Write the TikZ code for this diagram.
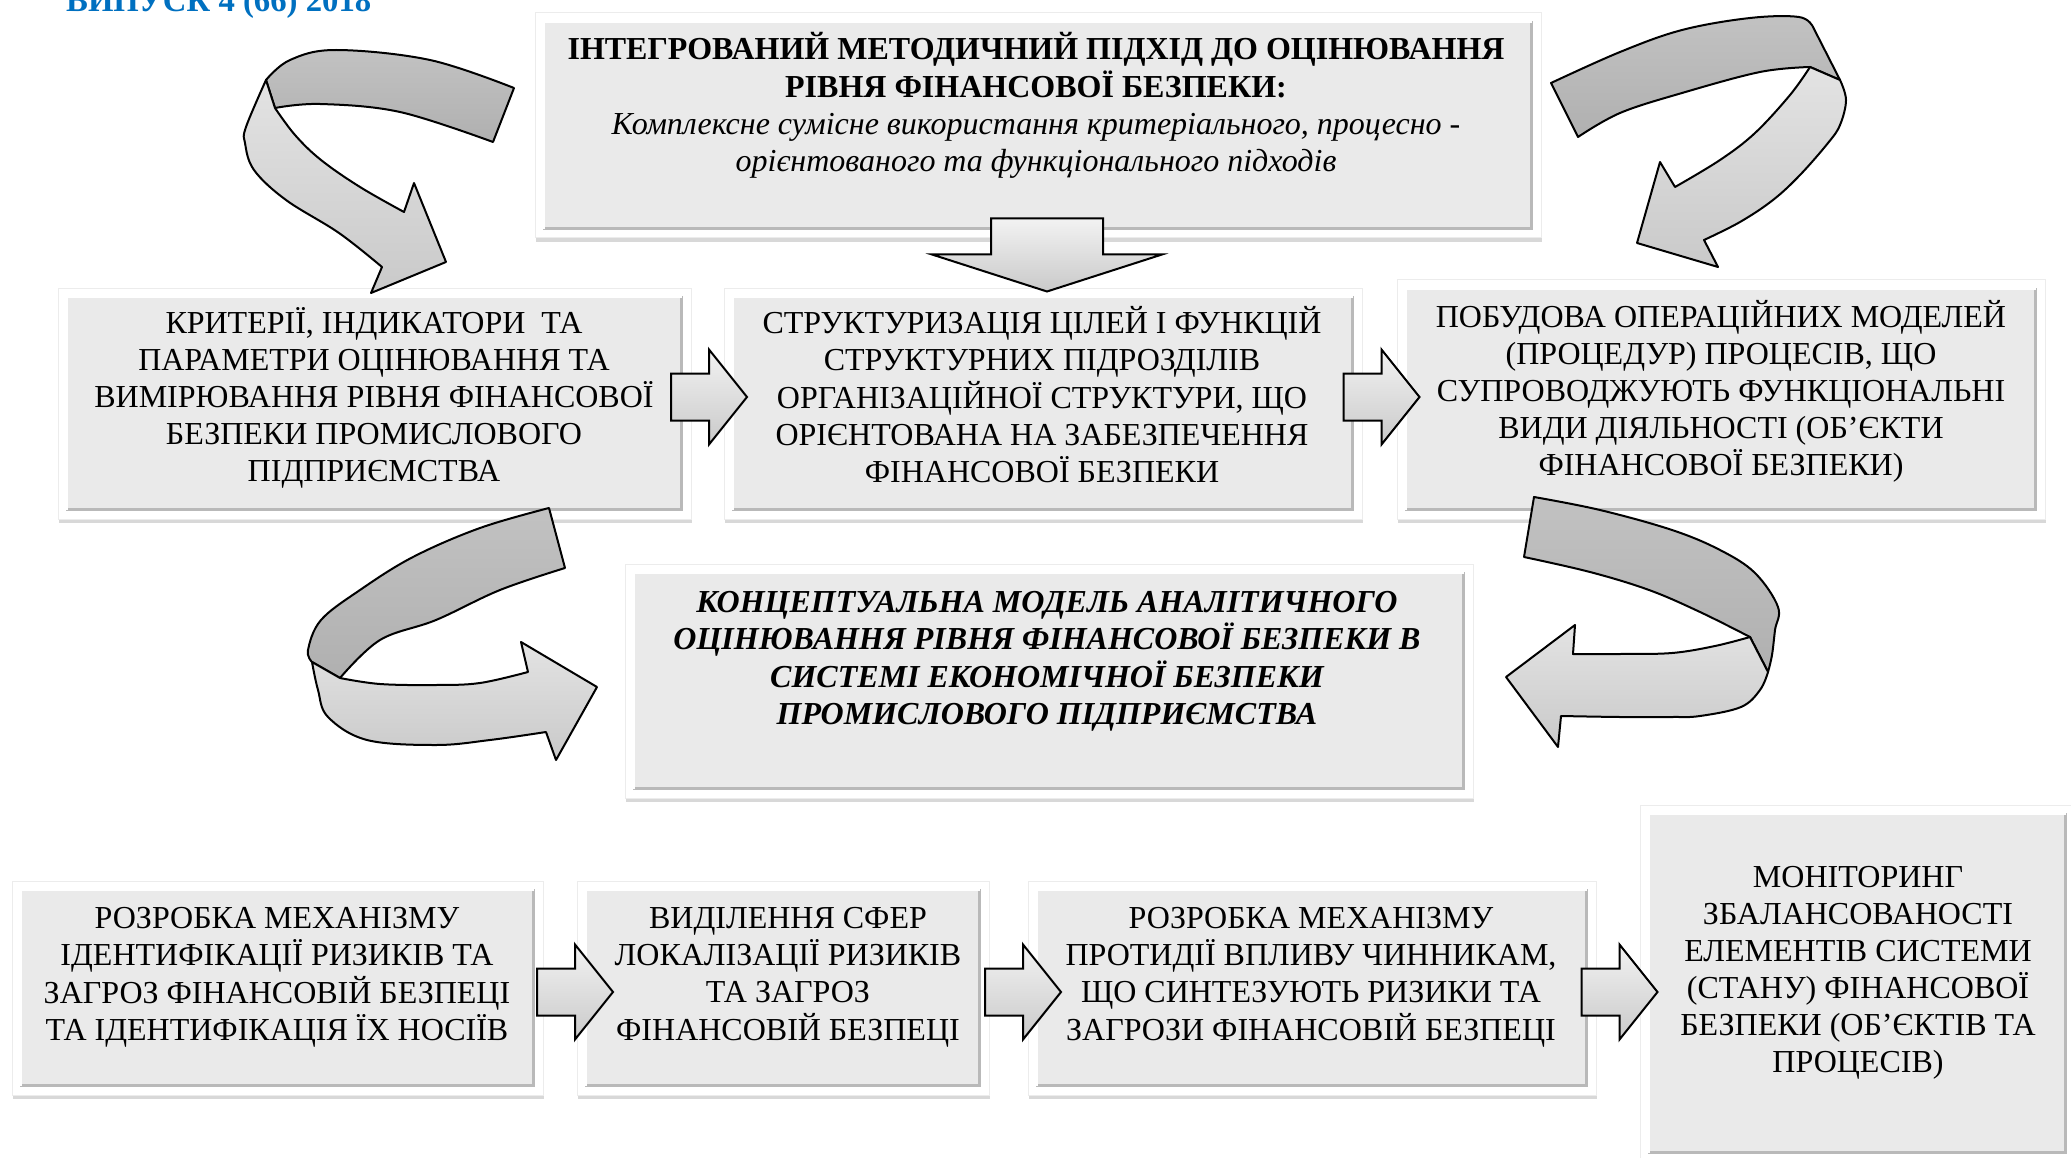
\documentclass[tikz,border=0pt]{standalone}
\usepackage{fontspec}
\setmainfont{Liberation Serif}
\usepackage{graphicx}
\usetikzlibrary{shadows,calc}
\definecolor{hdrblue}{HTML}{0070C0}
\definecolor{boxgray}{HTML}{EAEAEA}
\tikzset{
 boxframe/.style={fill=white, draw=gray!15, line width=1pt, inner sep=0pt,
   drop shadow={shadow xshift=1pt, shadow yshift=-4pt, opacity=0.3, fill=gray},
   path picture={
   \fill[boxgray] ([shift={(8pt,8pt)}]path picture bounding box.south west) rectangle ([shift={(-8pt,-8pt)}]path picture bounding box.north east);
   \draw[gray!55, line width=3pt] ([shift={(8pt,9.5pt)}]path picture bounding box.south west) -- ([shift={(-9.5pt,9.5pt)}]path picture bounding box.south east) -- ([shift={(-9.5pt,-8pt)}]path picture bounding box.north east);
   \draw[white, line width=2pt] ([shift={(9pt,9pt)}]path picture bounding box.south west) -- ([shift={(9pt,-9pt)}]path picture bounding box.north west) -- ([shift={(-9pt,-9pt)}]path picture bounding box.north east);
 }},
 boxtxt/.style={anchor=base, inner sep=0pt, font=\fontsize{32}{37}\selectfont},
 blockarrow/.style={draw=black, line width=2pt, line join=miter, top color=gray!10, bottom color=gray!42},
 backface/.style={draw=black, line width=2pt, line join=round, top color=gray!48, bottom color=gray!62},
 frontface/.style={draw=black, line width=2pt, line join=round, top color=gray!22, bottom color=gray!42},
 pics/rarr/.style={code={\draw[blockarrow] (-38,-23.5) -- (0,-23.5) -- (0,-47.5) -- (38,0) -- (0,47.5) -- (0,23.5) -- (-38,23.5) -- cycle;}},
 pics/darr/.style={code={\draw[blockarrow] (-56,0) -- (56,0) -- (56,36) -- (115,36) -- (0,73) -- (-115,36) -- (-56,36) -- cycle;}},
}
\newcommand{\tl}[1]{\begin{tabular}[t]{@{}c@{}}#1\end{tabular}}
\begin{document}
\begin{tikzpicture}[x=1pt,y=-1pt]
\useasboundingbox (0,0) rectangle (2071,1158);
\clip (0,0) rectangle (2071,1158);
\fill[white] (0,0) rectangle (2071,1158);

% header
\node[anchor=base west, inner sep=0pt, text=hdrblue] (hdr) at (66,12) {\resizebox{305pt}{!}{\bfseries ВИПУСК 4 (66) 2018}};

% boxes
\node[boxframe, minimum width=1006pt, minimum height=225pt] (T) at (1038,125.5) {};
\node[boxframe, minimum width=633pt, minimum height=231pt] (A) at (374.5,403.5) {};
\node[boxframe, minimum width=638pt, minimum height=231pt] (B) at (1043,403.5) {};
\node[boxframe, minimum width=648pt, minimum height=239pt] (C) at (1721,399.5) {};
\node[boxframe, minimum width=848pt, minimum height=234pt] (D) at (1049,681) {};
\node[boxframe, minimum width=531pt, minimum height=214pt] (E) at (277.5,988) {};
\node[boxframe, minimum width=412pt, minimum height=214pt] (F) at (783,988) {};
\node[boxframe, minimum width=568pt, minimum height=214pt] (G) at (1312,988) {};
\node[boxframe, minimum width=435pt, minimum height=357pt] (H) at (1857.5,983.5) {};

% texts
\node[boxtxt] (Tt) at (1036,60) {\tl{\textbf{ІНТЕГРОВАНИЙ МЕТОДИЧНИЙ ПІДХІД ДО ОЦІНЮВАННЯ}\\
 \textbf{РІВНЯ ФІНАНСОВОЇ БЕЗПЕКИ:}\\
 \textit{Комплексне сумісне використання критеріального, процесно -}\\
 \textit{орієнтованого та функціонального підходів}}};
\node[boxtxt] (At) at (374,333) {\tl{КРИТЕРІЇ, ІНДИКАТОРИ\ \ ТА\\ ПАРАМЕТРИ ОЦІНЮВАННЯ ТА\\ ВИМІРЮВАННЯ РІВНЯ ФІНАНСОВОЇ\\ БЕЗПЕКИ ПРОМИСЛОВОГО\\ ПІДПРИЄМСТВА}};
\node[boxtxt] (Bt) at (1042,333) {\tl{СТРУКТУРИЗАЦІЯ ЦІЛЕЙ І ФУНКЦІЙ\\ СТРУКТУРНИХ ПІДРОЗДІЛІВ\\ ОРГАНІЗАЦІЙНОЇ СТРУКТУРИ, ЩО\\ ОРІЄНТОВАНА НА ЗАБЕЗПЕЧЕННЯ\\ ФІНАНСОВОЇ БЕЗПЕКИ}};
\node[boxtxt] (Ct) at (1721,327) {\tl{ПОБУДОВА ОПЕРАЦІЙНИХ МОДЕЛЕЙ\\ (ПРОЦЕДУР) ПРОЦЕСІВ, ЩО\\ СУПРОВОДЖУЮТЬ ФУНКЦІОНАЛЬНІ\\ ВИДИ ДІЯЛЬНОСТІ (ОБ'ЄКТИ\\ ФІНАНСОВОЇ БЕЗПЕКИ)}};
\node[boxtxt, font=\fontsize{32}{37}\selectfont\bfseries\itshape] (Dt) at (1047,612) {\tl{КОНЦЕПТУАЛЬНА МОДЕЛЬ АНАЛІТИЧНОГО\\ ОЦІНЮВАННЯ РІВНЯ ФІНАНСОВОЇ БЕЗПЕКИ В\\ СИСТЕМІ ЕКОНОМІЧНОЇ БЕЗПЕКИ\\ ПРОМИСЛОВОГО ПІДПРИЄМСТВА}};
\node[boxtxt] (Et) at (277,928) {\tl{РОЗРОБКА МЕХАНІЗМУ\\ ІДЕНТИФІКАЦІЇ РИЗИКІВ ТА\\ ЗАГРОЗ ФІНАНСОВІЙ БЕЗПЕЦІ\\ ТА ІДЕНТИФІКАЦІЯ ЇХ НОСІЇВ}};
\node[boxtxt] (Ft) at (788,928) {\tl{ВИДІЛЕННЯ СФЕР\\ ЛОКАЛІЗАЦІЇ РИЗИКІВ\\ ТА ЗАГРОЗ\\ ФІНАНСОВІЙ БЕЗПЕЦІ}};
\node[boxtxt] (Gt) at (1311,928) {\tl{РОЗРОБКА МЕХАНІЗМУ\\ ПРОТИДІЇ ВПЛИВУ ЧИННИКАМ,\\ ЩО СИНТЕЗУЮТЬ РИЗИКИ ТА\\ ЗАГРОЗИ ФІНАНСОВІЙ БЕЗПЕЦІ}};
\node[boxtxt] (Ht) at (1858,887) {\tl{МОНІТОРИНГ\\ ЗБАЛАНСОВАНОСТІ\\ ЕЛЕМЕНТІВ СИСТЕМИ\\ (СТАНУ) ФІНАНСОВОЇ\\ БЕЗПЕКИ (ОБ’ЄКТІВ ТА\\ ПРОЦЕСІВ)}};

% straight block arrows
\pic at ($(T.south)+(9,-20)$) {darr};
\pic at ($(A.east)!0.5!(B.west)+(1.5,-6.5)$) {rarr};
\pic at ($(B.east)!0.5!(C.west)+(2,-4.5)$) {rarr};
\pic at ($(E.east)!0.5!(F.west)+(15,4)$) {rarr};
\pic at ($(F.east)!0.5!(G.west)+(14.5,4)$) {rarr};
\pic at ($(G.east)!0.5!(H.west)+(1.5,6.25)$) {rarr};

% curved arrow top-left
\draw[backface] plot[smooth, tension=0.6] coordinates {(514,88) (430,60) (336,50) (290,60) (266,80)} -- (275,108)
  -- plot[smooth, tension=0.6] coordinates {(275,108) (320,104) (400,112) (493,142)} -- cycle;
\draw[frontface] plot[smooth, tension=0.6] coordinates {(266,80) (246,127) (245,143) (254,170) (286,200) (339,233) (382,267)}
  -- (371,293) -- (446,262) -- (414,183) -- (404,212)
  -- plot[smooth, tension=0.6] coordinates {(404,212) (360,187) (321,160) (295,135) (275,108)} -- cycle;

% curved arrow top-right
\draw[backface] plot[smooth, tension=0.6] coordinates {(1551,83) (1620,52) (1682,30) (1750,18) (1799,17) (1813,27)} -- (1840,80) -- (1810,67)
  -- plot[smooth, tension=0.6] coordinates {(1810,67) (1760,72) (1682,93) (1620,113) (1578,137)} -- cycle;
\draw[frontface] plot[smooth, tension=0.6] coordinates {(1840,80) (1846,100) (1840,125) (1828,143) (1800,175) (1773,200) (1740,222) (1704,240)}
  -- (1718,267) -- (1637,243) -- (1660,162) -- (1675,187)
  -- plot[smooth, tension=0.6] coordinates {(1675,187) (1720,160) (1755,133) (1790,95) (1810,67)} -- cycle;

% curved arrow bottom-left
\draw[backface] plot[smooth, tension=0.6] coordinates {(549,508) (480,528) (413,557) (360,590) (321,620) (308,650) (312,662)} -- (340,678)
  -- plot[smooth, tension=0.6] coordinates {(340,678) (380,640) (436,620) (500,590) (565,568)} -- cycle;
\draw[frontface] plot[smooth, tension=0.6] coordinates {(312,662) (318,690) (328,717) (367,740) (436,745) (490,740) (546,732)}
  -- (556,760) -- (597,687) -- (521,642) -- (528,672)
  -- plot[smooth, tension=0.6] coordinates {(528,672) (480,683) (436,685) (380,684) (340,678)} -- cycle;

% curved arrow bottom-right
\draw[backface] plot[smooth, tension=0.6] coordinates {(1534,497) (1600,510) (1672,530) (1720,550) (1755,573) (1778,607) (1775,630) (1772,655) (1768,672)} -- (1750,637)
  -- plot[smooth, tension=0.6] coordinates {(1750,637) (1700,612) (1649,590) (1590,572) (1524,557)} -- cycle;
\draw[frontface] plot[smooth, tension=0.6] coordinates {(1768,672) (1760,690) (1741,707) (1700,716) (1672,717) (1620,717) (1561,716)}
  -- (1558,747) -- (1506,677) -- (1575,625) -- (1573,654)
  -- plot[smooth, tension=0.6] coordinates {(1573,654) (1620,654) (1672,653) (1715,646) (1750,637)} -- cycle;
\end{tikzpicture}
\end{document}
